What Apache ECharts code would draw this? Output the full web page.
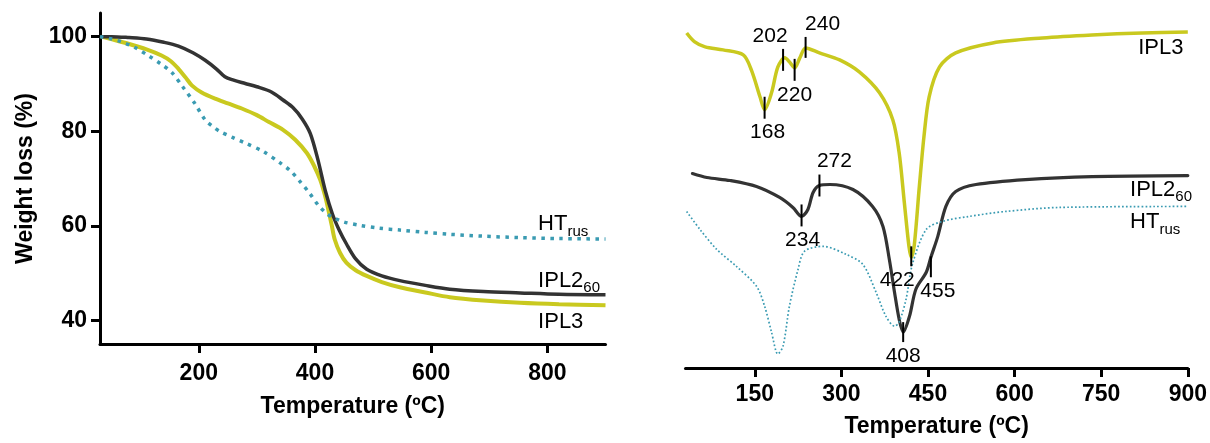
<!DOCTYPE html>
<html>
<head>
<meta charset="utf-8">
<script src="https://cdn.jsdelivr.net/npm/echarts@6.0.0/dist/echarts.min.js"></script>
<style>
html, body { margin: 0; padding: 0; background: #fff; }
#main { width: 1210px; height: 443px; }
</style>
</head>
<body>
<div id="main"></div>
<script>
// ---- TGA (left panel): temperature (ºC) / weight (%)
var tgaIPL2T = [30, 50, 80, 110, 140, 165, 190, 211, 230, 245, 260, 280, 300, 325, 345, 362, 378, 392, 405, 418, 430, 442, 454, 470, 489, 515, 546, 590, 632, 690, 753, 820, 900];
var tgaIPL2W = [100, 100, 99.8, 99.5, 98.8, 98.0, 96.6, 95.0, 93.2, 91.5, 90.8, 90.1, 89.4, 88.3, 86.6, 85.0, 82.6, 79.5, 74.0, 67.3, 62.5, 59.0, 56.2, 53.0, 50.8, 49.4, 48.4, 47.4, 46.6, 46.1, 45.8, 45.5, 45.4];

var tgaIPL3T = [32, 55, 79, 110, 136, 152, 165, 177, 188, 205, 228, 250, 274, 300, 320, 345, 366, 386, 398, 409, 417, 423, 429, 434, 443, 454, 470, 489, 515, 546, 590, 632, 690, 753, 820, 900];
var tgaIPL3W = [100, 99.3, 98.5, 97.3, 96.0, 94.8, 93.2, 91.4, 89.7, 88.2, 86.9, 85.9, 84.8, 83.4, 82.0, 80.3, 78.2, 75.4, 72.8, 69.7, 66.5, 63.4, 60.0, 57.1, 54.3, 52.2, 50.6, 49.4, 48.1, 47.0, 45.9, 44.9, 44.2, 43.7, 43.4, 43.2];

var tgaHTT = [30, 50, 67, 90, 113, 135, 153, 173, 193, 211, 225, 237, 258, 280, 311, 340, 358, 374, 390, 406, 420, 432, 450, 477, 510, 546, 590, 632, 690, 753, 820, 900];
var tgaHTW = [100, 99.5, 98.9, 97.7, 96.0, 94.2, 92.5, 89.3, 85.9, 82.4, 80.9, 79.9, 78.7, 77.5, 75.7, 73.3, 71.6, 69.4, 67.0, 64.3, 62.6, 61.7, 60.8, 60.1, 59.5, 59.1, 58.6, 58.2, 57.8, 57.5, 57.3, 57.2];

var tgaXTicks = [200, 400, 600, 800];
var tgaYTicks = [40, 60, 80, 100];

// ---- DTG (right panel): temperature (ºC) / derivative, arbitrary units
var dtgIPL3T = [32, 46, 64, 95, 130, 144, 159, 167, 179, 190, 202, 210, 219, 228, 238, 262, 297, 331, 366, 389, 400, 409, 417, 421, 426, 435, 443, 452, 470, 498, 562, 648, 734, 821, 900];
var dtgIPL3V = [336, 327, 322, 319, 314, 299, 272, 259, 276, 302, 311, 307, 301, 311, 321, 316, 309, 297, 276, 249, 216, 166, 122, 111, 122, 182, 232, 272, 302, 316, 326, 331, 334, 336, 337];

var dtgIPL2T = [42, 67, 107, 153, 193, 216, 231, 242, 251, 262, 280, 320, 354, 372, 383, 392, 400, 407, 418, 429, 447, 455, 467, 481, 498, 533, 619, 734, 900];
var dtgIPL2V = [195, 191, 188, 182, 171, 161, 152, 159, 176, 183, 184, 179, 162, 142, 109, 76, 49, 36, 52, 79, 96, 111, 132, 162, 177, 184, 189, 192, 193];

var dtgHTT = [32, 55, 84, 118, 153, 167, 179, 190, 199, 210, 225, 236, 268, 308, 337, 360, 377, 392, 400, 412, 423, 447, 475, 521, 585, 677, 900];
var dtgHTV = [157, 139, 119, 102, 82, 62, 36, 14, 22, 62, 99, 117, 122, 114, 104, 76, 52, 42, 46, 69, 104, 139, 147, 152, 157, 161, 162];

var dtgXTicks = [150, 300, 450, 600, 750, 900];

// peak markers: [temperature, tick start, tick end, text]
var dtgPeaks = [
    [167, 272, 250, '168'],
    [199, 298, 320, '202'],
    [219, 310, 288, '220'],
    [238, 311, 332, '240'],
    [231, 164, 142, '234'],
    [262, 172, 194, '272'],
    [407, 46, 26, '408'],
    [421, 122, 102, '422'],
    [455, 112, 91, '455']
];
var peakDx = { '168': 3, '202': -13, '220': 0, '240': 17, '234': 1, '272': 15, '408': 0, '422': -14, '455': 7 };

var BLACK = '#333333', YELLOW = '#c9c91f', TEAL = '#3a9bb2';
var FONT = "'Liberation Sans', Arial, sans-serif";

function pairs(xs, ys) {
    return xs.map(function (x, i) { return [x, ys[i]]; });
}

var chart = echarts.init(document.getElementById('main'));

function xAxisCfg(grid, ticks, gap) {
    return {
        gridIndex: grid, type: 'value', min: 30, max: 900,
        axisLine: { show: true, onZero: false, lineStyle: { color: '#000', width: 3 } },
        axisTick: { show: true, length: 9, customValues: ticks, lineStyle: { color: '#000', width: 3 } },
        axisLabel: { customValues: ticks, fontSize: 23, fontWeight: 'bold', color: '#000', fontFamily: FONT, margin: grid == 0 ? 18 : 15 },
        splitLine: { show: false },
        name: 'Temperature (ºC)', nameLocation: 'middle', nameGap: gap,
        nameTextStyle: { fontSize: 23, fontWeight: 'bold', color: '#000', fontFamily: FONT }
    };
}

option = {
    animation: false,
    backgroundColor: '#fff',
    grid: [
        { left: 100, right: 604.5, top: 13, bottom: 99 },
        { left: 685.5, right: 21, top: 13, bottom: 74 }
    ],
    xAxis: [xAxisCfg(0, tgaXTicks, 51), xAxisCfg(1, dtgXTicks, 47)],
    yAxis: [
        {
            gridIndex: 0, type: 'value', min: 35, max: 105,
            axisLine: { show: true, lineStyle: { color: '#000', width: 3 } },
            axisTick: { show: true, length: 9, customValues: tgaYTicks, lineStyle: { color: '#000', width: 3 } },
            axisLabel: { customValues: tgaYTicks, fontSize: 23, fontWeight: 'bold', color: '#000', fontFamily: FONT, margin: 13 },
            splitLine: { show: false },
            name: 'Weight loss (%)', nameLocation: 'middle', nameGap: 63,
            nameTextStyle: { fontSize: 23, fontWeight: 'bold', color: '#000', fontFamily: FONT }
        },
        { gridIndex: 1, type: 'value', min: 0, max: 356, show: false }
    ],
    series: [
        {
            type: 'line', xAxisIndex: 0, yAxisIndex: 0, data: pairs(tgaIPL3T, tgaIPL3W),
            showSymbol: false, smooth: 0.3, lineStyle: { color: YELLOW, width: 4 }
        },
        {
            type: 'line', xAxisIndex: 0, yAxisIndex: 0, data: pairs(tgaIPL2T, tgaIPL2W),
            showSymbol: false, smooth: 0.3, lineStyle: { color: BLACK, width: 3.5 }
        },
        {
            type: 'line', xAxisIndex: 0, yAxisIndex: 0, data: pairs(tgaHTT, tgaHTW),
            showSymbol: false, smooth: 0.3, lineStyle: { color: TEAL, width: 3.5, type: [3.5, 5.5] }
        },
        {
            type: 'line', xAxisIndex: 1, yAxisIndex: 1, data: pairs(dtgIPL2T, dtgIPL2V),
            showSymbol: false, smooth: 0.3, lineStyle: { color: BLACK, width: 3.2, cap: 'round' }
        },
        {
            type: 'line', xAxisIndex: 1, yAxisIndex: 1, data: pairs(dtgIPL3T, dtgIPL3V),
            showSymbol: false, smooth: 0.3, lineStyle: { color: YELLOW, width: 3.5 }
        },
        {
            type: 'line', xAxisIndex: 1, yAxisIndex: 1, data: pairs(dtgHTT, dtgHTV),
            showSymbol: false, smooth: 0.3, lineStyle: { color: TEAL, width: 1.7, type: [1.7, 2.2] }
        }
    ]
};
chart.setOption(option);

// text labels, placed from data coordinates
var ctx = document.createElement('canvas').getContext('2d');
function textW(s, size) {
    ctx.font = size + 'px ' + FONT;
    return ctx.measureText(s).width;
}
var gfx = [];
function subLabel(grid, pt, main, sub) {
    var p = chart.convertToPixel({ gridIndex: grid }, pt);
    gfx.push({ type: 'text', x: p[0], y: p[1], style: { text: main, font: '22px ' + FONT, fill: '#000', verticalAlign: 'middle' } });
    if (sub) {
        gfx.push({ type: 'text', x: p[0] + textW(main, 22), y: p[1] + 7, style: { text: sub, font: '15px ' + FONT, fill: '#000', verticalAlign: 'middle' } });
    }
}
subLabel(0, [784, 60.3], 'HT', 'rus');
subLabel(0, [784, 48.3], 'IPL2', '60');
subLabel(0, [784, 39.7], 'IPL3');
subLabel(1, [814, 321], 'IPL3');
subLabel(1, [800, 179], 'IPL2', '60');
subLabel(1, [800, 146], 'HT', 'rus');

dtgPeaks.forEach(function (m) {
    var a = chart.convertToPixel({ gridIndex: 1 }, [m[0], m[1]]);
    var b = chart.convertToPixel({ gridIndex: 1 }, [m[0], m[2]]);
    gfx.push({ type: 'line', shape: { x1: a[0], y1: a[1], x2: b[0], y2: b[1] }, style: { stroke: '#000', lineWidth: 2 }, z: 10 });
    var below = b[1] > a[1];
    gfx.push({
        type: 'text', x: b[0] + peakDx[m[3]], y: b[1] + (below ? 14 : -13), z: 10,
        style: { text: m[3], font: '21px ' + FONT, fill: '#000', align: 'center', verticalAlign: 'middle' }
    });
});
chart.setOption({ graphic: gfx });
</script>
</body>
</html>
